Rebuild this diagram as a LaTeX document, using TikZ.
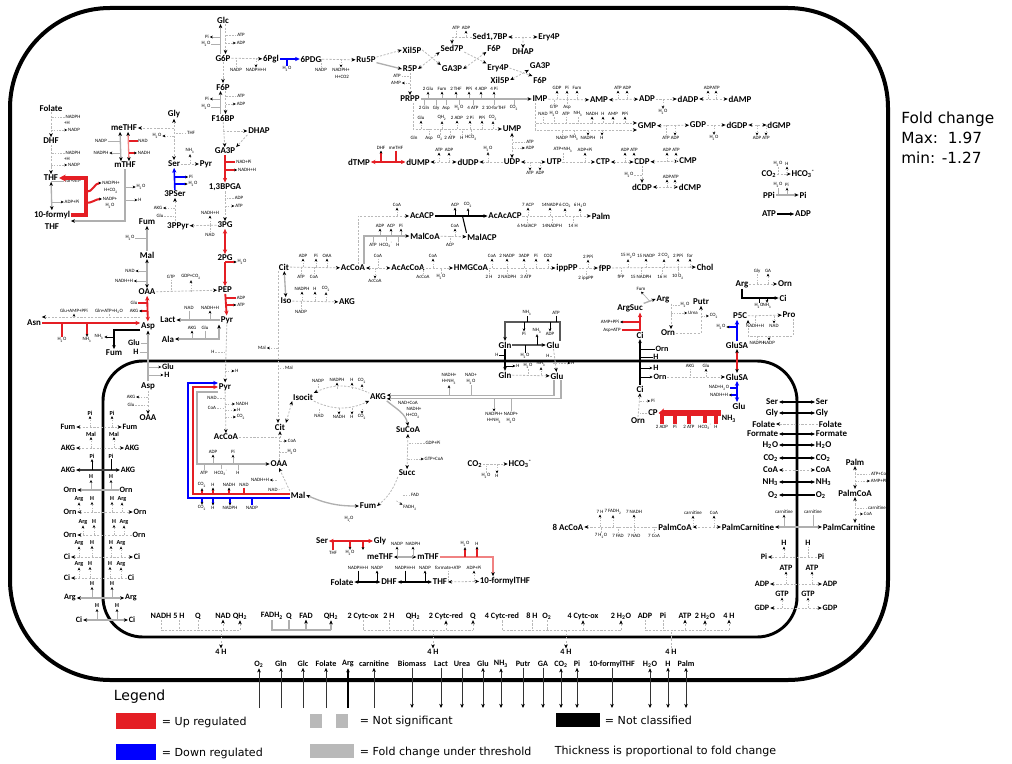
\documentclass[tikz,border=0pt]{standalone}
\usepackage{fontspec}
\setmainfont{Carlito}
\newfontfamily\dvs{DejaVu Sans}
\usetikzlibrary{arrows.meta,calc}
\newcommand\sbs[1]{\textsubscript{#1}}
\newcommand\sps[1]{\textsuperscript{#1}}
\newcommand\Ml[3]{\node[mt] (#1) at (#2) {#3};}
\newcommand\Dl[3]{\node[md] (#1) at (#2) {#3};}
\newcommand\Sl[3]{\node[sm] (#1) at (#2) {#3};}
\newcommand\Bl[3]{\node[sb] (#1) at (#2) {#3};}
\newcommand\Vo[4]{\draw[#1,cfa] ($(#2 -| #3)+(#4,0)$) -- (#2);}
\newcommand\Vi[4]{\draw[#1] (#2) -- ($(#2 -| #3)+(#4,0)$);}
\newcommand\Ho[4]{\draw[#1,cfa] ($(#2 |- #3)+(0,#4)$) -- (#2);}
\newcommand\Hi[4]{\draw[#1] (#2) -- ($(#2 |- #3)+(0,#4)$);}
\newcommand\Su[2]{\draw[cf,cfa] ($(#1.south)+(0,#2)$) -- (#1.south);}
\newcommand\Sd[2]{\draw[cf,cfa] ($(#1.north)+(0,-#2)$) -- (#1.north);}
\newcommand\Siu[2]{\draw[cf] (#1.south) -- ($(#1.south)+(0,#2)$);}
\newcommand\Sid[2]{\draw[cf] (#1.north) -- ($(#1.north)+(0,-#2)$);}
\definecolor{ured}{RGB}{228,30,36}
\definecolor{lred}{RGB}{240,130,130}
\definecolor{ngray}{RGB}{185,185,185}
\definecolor{dgray}{RGB}{175,175,175}
\begin{document}
\begin{tikzpicture}[x=0.75pt,y=-0.75pt,
 >={Stealth[length=3pt,width=2.6pt,inset=0.8pt,color=black]},
 every node/.style={inner sep=0.5pt},
 mt/.style={font=\bfseries\fontsize{6.7}{7}\selectfont},
 md/.style={font=\bfseries\fontsize{6.1}{7}\selectfont},
 sm/.style={font=\fontsize{3.7}{4}\selectfont},
 sb/.style={font=\bfseries\fontsize{4.6}{5}\selectfont},
 dg/.style={draw=ngray,dash pattern=on 1.6pt off 1.1pt,line width=0.6pt},
 cf/.style={draw=ngray,dash pattern=on 1.2pt off 0.9pt,line width=0.45pt},
 sg/.style={draw=dgray,line width=1pt},
 sgt/.style={draw=dgray,line width=0.5pt},
 rd/.style={draw=ured,line width=1.4pt,>={Stealth[length=3.5pt,width=3.2pt,inset=1pt]}},
 rdt/.style={draw=ured,line width=0.8pt},
 lr/.style={draw=lred,line width=1pt},
 bl/.style={draw=blue,line width=1.2pt,>={Stealth[length=3.5pt,width=3.2pt,inset=1pt]}},
 blt/.style={draw=blue,line width=0.8pt},
 bk/.style={draw=black,line width=0.8pt},
 bkt/.style={draw=black,line width=0.5pt},
 dk/.style={draw=black!65,line width=1pt},
 ex/.style={draw=black!80,line width=0.7pt},
 lt/.style={font=\dvs\fontsize{8.3}{10}\selectfont,anchor=west},
 cfa/.style={-{Stealth[length=2.2pt,width=2pt,inset=0.6pt,color=black]}},
]
\path[use as bounding box] (0,0) rectangle (1012,763);
% ---------- membranes ----------
\draw[line width=3pt,rounded corners=75pt] (10,8) rectangle (888,680);
\draw[line width=2.2pt,rounded corners=30pt] (103,361) rectangle (797,637);
% ---------- fold change / legend ----------
\node[anchor=north west,align=left,font=\dvs\fontsize{11.5}{15}\selectfont,inner sep=0pt] (fold) at (901,112) {Fold change\\Max:~~1.97\\min: -1.27};
\node[anchor=west,font=\dvs\fontsize{10.5}{12}\selectfont] (leg) at (113,697) {Legend};
\node[fill=ured,minimum width=30pt,minimum height=12pt,inner sep=0] (lgr) at (136,721) {};
\node[lt] (lgrt) at (161,722) {= Up regulated};
\node[fill=blue,minimum width=30pt,minimum height=12pt,inner sep=0] (lgb) at (136,752) {};
\node[lt] (lgbt) at (161,753) {= Down regulated};
\node[fill=ngray,minimum width=9pt,minimum height=10pt,inner sep=0] (lgn1) at (316,721) {};
\node[fill=ngray,minimum width=9pt,minimum height=10pt,inner sep=0] (lgn2) at (342,721) {};
\node[lt] (lgnt) at (359,721) {= Not significant};
\node[fill=ngray,minimum width=33pt,minimum height=10pt,inner sep=0] (lgf) at (332,751) {};
\node[lt] (lgft) at (359,752) {= Fold change under threshold};
\node[fill=black,minimum width=33pt,minimum height=11pt,inner sep=0] (lgk) at (578,720) {};
\node[lt] (lgkt) at (604,720) {= Not classified};
\node[lt] (lgth) at (554,751) {Thickness is proportional to fold change};
% ---------- glycolysis ----------
\Ml{glc}{223,20}{Glc} \Ml{g6p}{223,58}{G6P} \Ml{pgl}{271,59}{6Pgl} \Ml{pdg}{311,59}{6PDG}
\Ml{ruvp}{366,60}{Ru5P} \Ml{f6p}{223,87}{F6P} \Ml{fbp}{223,118}{F16BP} \Ml{dhap}{259,131}{DHAP}
\Ml{gap}{225,151}{GA3P} \Ml{bpg}{225,187}{1,3BPGA} \Ml{tpg}{225,225}{3PG} \Ml{dpg}{225,258}{2PG}
\Ml{pep}{225,290}{PEP} \Ml{pyr}{227,320}{Pyr}
\draw[sg,->] ($(g6p.north)+(-2.5,0)$) -- ($(glc.south)+(-2.5,0)$);
\draw[dg,->] ($(glc.south)+(2.5,0)$) -- ($(g6p.north)+(2.5,0)$);
\Sl{a1}{207,37}{Pi} \Sl{a2}{206,44}{H\sbs{2}O} \Sl{a3}{241,35}{ATP} \Sl{a4}{241,43}{ADP}
\Vo{sgt}{a1.east}{glc}{-2.5} \Vi{sgt}{a2.east}{glc}{-2.5} \Vi{cf}{a3.west}{glc}{2.5} \Vo{cf}{a4.west}{glc}{2.5}
\draw[dg,->] (g6p) -- (f6p);
\draw[sg,->] ($(fbp.north)+(-2.5,0)$) -- ($(f6p.south)+(-2.5,0)$);
\draw[dg,->] ($(f6p.south)+(2.5,0)$) -- ($(fbp.north)+(2.5,0)$);
\Sl{a5}{207,99}{Pi} \Sl{a6}{206,107}{H\sbs{2}O} \Sl{a7}{241,96}{ATP} \Sl{a8}{241,104}{ADP}
\Vo{sgt}{a5.east}{f6p}{-2.5} \Vi{sgt}{a6.east}{f6p}{-2.5} \Vi{cf}{a7.west}{f6p}{2.5} \Vo{cf}{a8.west}{f6p}{2.5}
\draw[dg,->] (g6p) -- (pgl);
\Sl{a9}{236,70}{NADP} \Sl{a10}{256,70}{NADPH+H}
\Hi{cf}{a9.north}{g6p}{0} \Ho{cf}{a10.north}{g6p}{0}
\draw[bl,->] (pgl) -- (pdg);
\Sl{a11}{287,69}{H\sbs{2}O} \Hi{blt}{a11.north}{pgl}{0}
\draw[dg,->] (pdg) -- (ruvp);
\Sl{a12}{321,70}{NADP} \Sl{a13}{341,70}{NADPH+} \Sl{a14}{342,77}{H+CO2}
\Hi{cf}{a12.north}{pdg}{0} \Ho{cf}{a13.north}{pdg}{0}
\draw[dg,->] (fbp) -- (gap);
\draw[dg,->] (dhap.west -| fbp) -- (dhap.west);
\draw[dg,->] (dhap.south west) -- (gap.north east);
\draw[rd,->] (gap) -- (bpg);
\Sl{a15}{244,162}{NAD+Pi} \Sl{a16}{247,170}{NADH+H}
\Vi{rdt}{a15.west}{gap}{0} \Vo{rdt}{a16.west}{gap}{0}
\draw[dg,->] (bpg) -- (tpg);
\Sl{a17}{239,198}{ADP} \Sl{a18}{239,206}{ATP}
\Vi{cf}{a17.west}{bpg}{0} \Vo{cf}{a18.west}{bpg}{0}
\draw[rd,<->] (tpg) -- (dpg);
\draw[rd,->] (dpg) -- (pep);
\Sl{a19}{242,262}{H\sbs{2}O} \Vo{rdt}{a19.west}{dpg}{0}
\draw[rd,->] (pep) -- (pyr);
\Sl{a20}{241,298}{ADP} \Sl{a21}{241,305}{ATP}
\Vi{rdt}{a20.west}{pep}{0} \Vo{rdt}{a21.west}{pep}{0}
% ---------- serine / glycine ----------
\Ml{ppyr}{178,226}{3PPyr} \Ml{pser}{175,194}{3PSer} \Ml{ser}{174,164}{Ser} \Ml{pyrb}{206,164}{Pyr} \Ml{gly}{174,114}{Gly}
\draw[dg,->] (tpg) -- (ppyr);
\Sl{a22}{210,213}{NADH+H} \Sl{a23}{210,235}{NAD}
\Ho{cf}{a22.south}{tpg}{0} \Hi{cf}{a23.north}{tpg}{0}
\draw[dg,->] (ppyr.north -| pser) -- (pser);
\Sl{a24}{158,208}{AKG} \Sl{a25}{160,216}{Glu}
\Vo{cf}{a24.east}{pser}{0} \Vi{cf}{a25.east}{pser}{0}
\draw[bl,->] (pser) -- (ser);
\Sl{a26}{191,177}{Pi} \Sl{a27}{193,184}{H\sbs{2}O}
\Vo{blt}{a26.west}{ser}{0} \Vo{blt}{a27.west}{ser}{0}
\draw[dg,->] (ser) -- (pyrb);
\Sl{a28}{190,151}{NH\sbs{3}} \Ho{cf}{a28.south}{ser}{0}
\draw[dg,<->] (gly) -- (ser);
\Sl{a29}{157,136}{H\sbs{2}O} \Sl{a30}{191,133}{THF}
\Vo{cf}{a29.east}{gly}{0} \Vi{cf}{a30.west}{gly}{0}
% ---------- folate (cytosol) ----------
\Ml{meth}{124,128}{meTHF} \Ml{mth}{125,165}{mTHF}
\draw[dg,->] (meth.east -| gly) -- (meth.east);
\draw[sg,<->] ($(mth.north)+(-4,0)$) -- ($(meth.south)+(-4,0)$);
\draw[lr,<->] ($(mth.north)+(4,0)$) -- ($(meth.south)+(4,0)$);
\Sl{a31}{101,141}{NADP} \Sl{a32}{101,153}{NADPH} \Sl{a33}{143,141}{NAD} \Sl{a34}{144,153}{NADH}
\Vi{sgt}{a31.east}{mth}{-4} \Vo{sgt}{a32.east}{mth}{-4} \Vi{rdt}{a33.west}{mth}{4} \Vo{rdt}{a34.west}{mth}{4}
\Ml{fol}{51,108}{Folate} \Ml{dhf}{51,141}{DHF} \Ml{thf}{51,178}{THF} \Ml{tenf}{52,215}{10-formyl} \Ml{tenf2}{52,227}{THF}
\draw[dg,->] (fol) -- (dhf);
\Sl{b1}{73,117}{NADPH} \Sl{b2}{67,123}{+H} \Sl{b3}{74,130}{NADP}
\Vi{cf}{b1.west}{fol}{0} \Vo{cf}{b3.west}{fol}{0}
\draw[dg,->] (dhf) -- (thf);
\Sl{b4}{73,153}{NADPH} \Sl{b5}{67,159}{+H} \Sl{b6}{74,165}{NADP}
\Vi{cf}{b4.west}{dhf}{0} \Vo{cf}{b6.west}{dhf}{0}
\draw[sg,<->] (thf) -- (tenf);
\Sl{b7}{73,181}{for+ATP} \Sl{b8}{72,202}{ADP+Pi}
\Vi{sgt}{b7.west}{thf}{0} \Vo{sgt}{b8.west}{thf}{0}
\coordinate (rc1) at (86,215); \coordinate (rc2) at (86,192); \coordinate (rc3) at (86,203);
\draw[draw=ured,line width=2.8pt,-{Stealth[length=5pt,width=5pt]}] (tenf.east) -- (rc1) |- (thf.east);
\Sl{b9}{111,183}{NADPH+} \Sl{b10}{111,191}{H+CO\sbs{2}} \Sl{b11}{110,199}{NADP+} \Sl{b12}{110,206}{H\sbs{2}O}
\draw[draw=ured,line width=1.5pt,cfa] (rc2) to[out=0,in=180] (b9.west);
\draw[draw=ured,line width=1.5pt,cfa] (rc3) to[out=0,in=180] (b11.west);
\draw[sg,->] (mth.south) |- ($(tenf.east)+(0,6)$);
\Sl{b13}{141,187}{H\sbs{2}O} \Sl{b14}{140,200}{H}
\Vo{sgt}{b13.west}{mth}{0} \Vo{sgt}{b14.west}{mth}{0}
% ---------- Mal / OAA / Asp (cytosol) ----------
\Ml{fum}{147,222}{Fum} \Ml{mal}{147,255}{Mal} \Ml{oaa}{147,292}{OAA} \Ml{asp}{148,326}{Asp}
\Ml{asn}{34,323}{Asn} \Ml{lact}{168,320}{Lact} \Ml{ala}{168,339}{Ala} \Ml{fumb}{114,353}{Fum}
\draw[sg,->] (mal) -- (fum);
\Sl{c1}{130,238}{H\sbs{2}O} \Vi{sgt}{c1.east}{mal}{0}
\draw[sg,<->] (mal) -- (oaa);
\Sl{c2}{130,271}{NAD} \Sl{c3}{124,281}{NADH+H}
\Vo{sgt}{c2.east}{mal}{0} \Vo{sgt}{c3.east}{mal}{0}
\draw[dg,->] (oaa) -- (pep);
\Sl{c4}{171,277}{GTP} \Sl{c5}{191,277}{GDP+CO\sbs{2}}
\Hi{cf}{c4.south}{oaa}{0} \Ho{cf}{c5.south}{oaa}{0}
\draw[rd,<->] (oaa) -- (asp);
\Sl{c6}{134,303}{Glu} \Sl{c7}{134,311}{AKG}
\Vi{rdt}{c6.east}{oaa}{0} \Vo{rdt}{c7.east}{oaa}{0}
\draw[dg,->] ($(asp.west)+(0,-9)$) -- ($(asp.west -| asn.east)+(0,-9)$);
\Sl{c8}{74,311}{Glu+AMP+PPi} \Sl{c9}{109,311}{Gln+ATP+H\sbs{2}O}
\Ho{cf}{c8.south}{asp}{-9} \Hi{cf}{c9.south}{asp}{-9}
\draw[rd,->] (asn.east) -- (asn.east -| asp.west);
\Sl{c10}{62,340}{H\sbs{2}O} \Sl{c11}{87,340}{NH\sbs{3}}
\Hi{rdt}{c10.north}{asn}{0} \Ho{rdt}{c11.north}{asn}{0}
\draw[bk,->] ($(asp.west)+(0,4)$) -| (fumb.north);
\Sl{c12}{99,337}{NH\sbs{3}} \Vo{bkt}{c12.east}{fumb}{0}
\draw[sg,->] (pyr) -- (lact);
\Sl{c13}{189,308}{NAD} \Sl{c14}{210,308}{NADH+H}
\Hi{sgt}{c13.south}{lact}{0} \Ho{sgt}{c14.south}{lact}{0}
\draw[sg,<->] ($(pyr.south)+(-8,0)$) |- (ala.east);
\Sl{c15}{192,328}{AKG} \Sl{c16}{205,328}{Glu}
\Ho{sgt}{c15.south}{ala}{0} \Hi{sgt}{c16.south}{ala}{0}
% transport Asp/Glu and Pyr
\Ml{aspm}{148,386}{Asp} \Ml{oaal}{148,418}{OAA}
\Dl{glua}{134,343}{Glu} \Dl{ha}{136,352}{H} \Dl{glub}{168,367}{Glu} \Dl{hb}{167,375}{H}
\draw[sg,->] (aspm) -- (asp);
\Vi{sgt}{glua.east}{asp}{0} \Vi{sgt}{ha.east}{asp}{0} \Vo{sgt}{glub.west}{asp}{0} \Vo{sgt}{hb.west}{asp}{0}
\draw[dg,->] (aspm) -- (oaal);
\Sl{c17}{131,397}{AKG} \Sl{c18}{131,405}{Glu}
\Vo{cf}{c17.east}{aspm}{0} \Vi{cf}{c18.east}{aspm}{0}
\Ml{pyrm}{225,387}{Pyr}
\draw[dg,->] (pyr) -- (pyrm);
\Sl{c19}{213,352}{H} \Sl{c20}{237,371}{H}
\Vi{cf}{c19.east}{pyrm}{0} \Vo{cf}{c20.west}{pyrm}{0}
% ---------- Cit / Iso (cytosol) ----------
\Ml{cit}{284,267}{Cit} \Ml{iso}{286,301}{Iso} \Ml{accoa}{353,268}{AcCoA} \Ml{akgo}{347,302}{AKG}
\draw[sg,<->] (cit) -- (iso);
\draw[dg,->] (cit) -- (accoa);
\Sl{d1}{303,256}{ADP} \Sl{d2}{316,256}{Pi} \Sl{d3}{327,256}{OAA} \Sl{d4}{301,277}{ATP} \Sl{d5}{314,277}{CoA}
\Ho{cf}{d1.south}{cit}{0} \Ho{cf}{d2.south}{cit}{0} \Ho{cf}{d3.south}{cit}{0} \Hi{cf}{d4.north}{cit}{0} \Hi{cf}{d5.north}{cit}{0}
\draw[dg,->] (iso) -- (akgo);
\Sl{d6}{302,289}{NADPH} \Sl{d7}{315,289}{H} \Sl{d8}{326,289}{CO\sbs{2}} \Sl{d9}{301,312}{NADP}
\Ho{cf}{d6.south}{iso}{0} \Ho{cf}{d7.south}{iso}{0} \Ho{cf}{d8.south}{iso}{0} \Hi{cf}{d9.north}{iso}{0}
\Ml{citm}{280,427}{Cit}
\draw[dg,->] ($(cit.south)+(-6,0)$) -- ($(citm.north)+(-2,0)$);
\Sl{d10}{262,348}{Mal} \Sl{d11}{289,368}{Mal}
\Vo{cf}{d10.east}{citm}{-2} \Vi{cf}{d11.west}{citm}{-2}
% ---------- TCA (mito) ----------
\Ml{accoam}{226,437}{AcCoA} \Ml{isocit}{303,397}{Isocit} \Ml{akgm}{378,397}{AKG} \Ml{sucoa}{408,430}{SuCoA}
\Ml{succ}{407,473}{Succ} \Ml{fumm}{368,506}{Fum} \Ml{malm}{298,495}{Mal} \Ml{oaam}{279,464}{OAA}
\draw[dg,->] (pyrm) -- (accoam);
\Sl{e1}{212,398}{NAD} \Sl{e2}{212,408}{CoA} \Sl{e3}{242,404}{NADH} \Sl{e4}{239,410}{H} \Sl{e5}{241,417}{CO\sbs{2}}
\Vi{cf}{e1.east}{pyrm}{0} \Vi{cf}{e2.east}{pyrm}{0} \Vo{cf}{e3.west}{pyrm}{0} \Vo{cf}{e4.west}{pyrm}{0} \Vo{cf}{e5.west}{pyrm}{0}
\draw[dg,->] (accoam.east) -| (citm.south);
\draw[dg] (oaam.north) -- (oaam.north |- accoam.east);
\Sl{e6}{292,441}{CoA} \Sl{e7}{292,452}{H\sbs{2}O}
\Vo{cf}{e6.west}{citm}{0} \Vi{cf}{e7.west}{citm}{0}
\draw[dg,<->] (citm.north east) -- (isocit.south west);
\draw[dg,<-] (isocit.north east) to[out=25,in=155] (akgm.north west);
\draw[dg,->] (isocit.south east) to[out=-25,in=-155] (akgm.south west);
\Sl{e8}{318,381}{NADP} \Sl{e9}{337,380}{NADPH} \Sl{e10}{352,380}{H} \Sl{e11}{362,381}{CO\sbs{2}}
\Sl{e12}{319,416}{NAD} \Sl{e13}{339,417}{NADH} \Sl{e14}{352,417}{H} \Sl{e15}{362,417}{CO\sbs{2}}
\Siu{e8}{5} \Su{e9}{6} \Su{e10}{6} \Su{e11}{5} \Sid{e12}{5} \Sd{e13}{6} \Sd{e14}{6} \Sd{e15}{5}
\draw[sg,->] (akgm.south east) to[out=-40,in=100] (sucoa.north);
\Sl{e16}{408,403}{NAD+CoA} \Sl{e17}{414,409}{NADH+} \Sl{e18}{413,416}{H+CO\sbs{2}}
\draw[dg,<->] (sucoa) -- (succ);
\Sl{e19}{433,443}{GDP+Pi} \Sl{e20}{434,459}{GTP+CoA}
\Vi{cf}{e19.west}{sucoa}{0} \Vo{cf}{e20.west}{sucoa}{0}
\draw[dg,->] (succ.south west) to[bend left=15] (fumm.east);
\Sl{e21}{415,495}{FAD} \Sl{e22}{410,508}{FADH\sbs{2}}
\draw[cf] (e21.west) -- ++(-7,0); \draw[cf,cfa] ($(e22.north west)+(-6,-4)$) -- (e22.north west);
\draw[sg,<->] (fumm.west) to[bend left=12] (malm.east);
\Sl{e23}{349,519}{H\sbs{2}O} \Siu{e23}{-5}
\draw[dg,->] (malm.north west) -- (oaam.south);
\Sl{e24}{260,480}{NADH+H} \Sl{e25}{273,490}{NAD}
\draw[cf,cfa] ($(e24.east)+(7,0)$) -- (e24.east); \draw[cf] (e25.east) -- ++(6,-2);
\coordinate (gA) at (197,392); \coordinate (rA) at (193,387); \coordinate (bA) at (188,383);
\draw[sg,->] (pyrm.west |- gA) -- (gA) |- (oaam.west);
\Sl{e26}{213,452}{ADP} \Sl{e27}{233,452}{Pi} \Sl{e28}{204,473}{ATP} \Sl{e29}{221,473}{HCO\sbs{3}\sps{-}} \Sl{e30}{238,473}{H}
\Ho{sgt}{e26.south}{oaam}{0} \Ho{sgt}{e27.south}{oaam}{0} \Hi{sgt}{e28.north}{oaam}{0} \Hi{sgt}{e29.north}{oaam}{0} \Hi{sgt}{e30.north}{oaam}{0}
\draw[rd,->] ($(malm.west)+(0,-1)$) -| (rA) -- (rA -| pyrm.west);
\Sl{e31}{202,485}{CO\sbs{2}} \Sl{e32}{213,485}{H} \Sl{e33}{229,485}{NADH} \Sl{e34}{244,485}{NAD}
\Ho{rdt}{e31.south}{malm}{-1} \Ho{rdt}{e32.south}{malm}{-1} \Ho{rdt}{e33.south}{malm}{-1} \Hi{rdt}{e34.south}{malm}{-1}
\draw[bl,->] ($(malm.west)+(0,3)$) -| (bA) -- (bA -| pyrm.west);
\Sl{e35}{202,508}{CO\sbs{2}} \Sl{e36}{213,508}{H} \Sl{e37}{230,508}{NADPH} \Sl{e38}{252,508}{NADP}
\Ho{blt}{e35.north}{malm}{3} \Ho{blt}{e36.north}{malm}{3} \Ho{blt}{e37.north}{malm}{3} \Hi{blt}{e38.north}{malm}{3}
% ---------- AKG / Glu (mito) ----------
\Ml{glnm}{505,375}{Gln} \Ml{glum}{557,376}{Glu}
\draw[sg,->] ($(glum.south)+(-3,0)$) |- ($(akgm.east)+(0,-1.8)$);
\draw[sg,->] ($(glum.south)+(4,0)$) |- ($(akgm.east)+(0,1.8)$);
\Sl{f1}{449,375}{NADH+} \Sl{f2}{449,382}{H+NH\sbs{3}} \Sl{f3}{471,375}{NAD+} \Sl{f4}{471,382}{H\sbs{2}O}
\Sl{f5}{494,414}{NADPH+} \Sl{f6}{494,421}{H+NH\sbs{3}} \Sl{f7}{511,414}{NADP+} \Sl{f8}{511,421}{H\sbs{2}O}
\draw[sgt,cfa] ($(f2.south)+(0,10)$) -- (f2.south); \draw[sgt] (f4.south) -- ($(f4.south)+(0,10)$);
\draw[sgt,cfa] ($(f5.north)+(0,-12)$) -- (f5.north); \draw[sgt] (f7.north) -- ($(f7.north)+(0,-12)$);
% ---------- Gln / Glu ----------
\Ml{gln}{505,345}{Gln} \Ml{glu}{553,345}{Glu}
\coordinate (qA) at (505,322);
\draw[dk,->] ($(glu.north)+(7,0)$) |- (qA) -- (gln.north);
\Sl{g1}{527,313}{NH\sbs{3}} \Sl{g2}{556,313}{ATP} \Sl{g3}{524,334}{Pi} \Sl{g4}{550,334}{ADP}
\Hi{bkt}{g1.south}{qA}{0} \Hi{bkt}{g2.south}{qA}{0} \Ho{bkt}{g3.north}{qA}{0} \Ho{bkt}{g4.north}{qA}{0}
\draw[dk,->] (gln) -- (glu);
\Sl{g5}{537,331}{NH\sbs{3}} \Sl{g6}{525,356}{H\sbs{2}O}
\Ho{bkt}{g5.south}{gln}{0} \Hi{bkt}{g6.north}{gln}{0}
\draw[bk,->] (gln) -- (glnm);
\Sl{g7}{497,355}{H} \Sl{g8}{518,366}{H} \Sl{g9}{528,366}{H\sbs{2}O} \Sl{g10}{541,364}{NH\sbs{3}}
\Vi{bkt}{g7.east}{gln}{0} \Vo{bkt}{g8.west}{gln}{0}
\draw[dg,->] (glu) -- (glum);
\Sl{g11}{548,356}{H} \Sl{g12}{573,363}{H}
\Vi{cf}{g11.east}{glu}{0} \Vo{cf}{g12.west}{glu}{0}
\draw[dg,->] (glnm) -- (glum);
\Hi{cf}{g9.south}{glnm}{0} \Ho{cf}{g10.south}{glnm}{0}
% ---------- urea cycle ----------
\Ml{argsuc}{630,308}{ArgSuc} \Ml{arg}{663,299}{Arg} \Sl{h1}{641,289}{Fum} \Ml{cio}{640,335}{Ci}
\Ml{orna}{668,333}{Orn} \Ml{putr}{701,302}{Putr}
\draw[rd,->] (cio.north) -- (cio.north |- argsuc.south);
\Sl{h2}{610,322}{AMP+PPi} \Sl{h3}{612,330}{Asp+ATP}
\Vo{rdt}{h2.east}{cio}{0} \Vi{rdt}{h3.east}{cio}{0}
\draw[sg,->] (argsuc.north east) -- (arg.west);
\draw[sgt,cfa] ($(argsuc.north east)!0.5!(arg.west)$) -- (h1.south);
\draw[dg,->] ($(arg.south)+(8,0)$) -- ($(orna.north)+(3,0)$);
\Sl{h4}{685,305}{H\sbs{2}O} \Sl{h5}{693,313}{Urea}
\Vi{cf}{h4.west}{orna}{3} \Vo{cf}{h5.west}{orna}{3}
\draw[dg,->] (orna.east) -| (putr.south);
\Sl{h6}{714,316}{CO\sbs{2}} \Vo{cf}{h6.west}{putr}{0}
\Ml{argb}{742,284}{Arg} \Ml{ornb}{785,284}{Orn} \Ml{cib}{783,298}{Ci}
\draw[dg,->] (argb) -- (ornb);
\Sl{h7}{757,271}{Gly} \Sl{h8}{768,271}{GA}
\Hi{cf}{h7.south}{argb}{0} \Ho{cf}{h8.south}{argb}{0}
\draw[bk,->] (argb.south) |- (cib.west);
\Sl{h9}{759,306}{H\sbs{2}O} \Sl{h10}{767,306}{NH\sbs{3}}
\Hi{bkt}{h9.north}{cib}{0} \Ho{bkt}{h10.north}{cib}{0}
\Ml{pfc}{740,316}{P5C} \Ml{pro}{789,315}{Pro}
\draw[dg,->] (pfc) -- (pro);
\Sl{h11}{755,326}{NADH+H} \Sl{h12}{774,326}{NAD}
\Hi{cf}{h11.north}{pfc}{0} \Ho{cf}{h12.north}{pfc}{0}
\coordinate (pl) at (748,336);
\draw[dg,->] ($(pro.south)+(4,0)$) |- (pl) -- (pl |- pfc.south);
\Sl{h13}{757,343}{NADPH} \Sl{h14}{769,343}{NADP}
\Hi{cf}{h13.north}{pl}{0} \Ho{cf}{h14.north}{pl}{0}
\Ml{glusa}{737,345}{GluSA} \Ml{glusam}{737,377}{GluSA} \Ml{glue}{739,406}{Glu}
\draw[bl,->] (glusa) -- (glusa |- pfc.south);
\Sl{h15}{721,327}{H\sbs{2}O} \Vo{blt}{h15.east}{glusa}{0}
\draw[draw=ured,line width=0.8pt,<->] (glusam) -- (glusa);
\draw[bl,<->] (glusam) -- (glusam |- glue.north);
\Sl{h16}{719,388}{NAD+H\sbs{2}O} \Sl{h17}{719,395}{NADH+H}
\Vi{blt}{h16.east}{glusam}{0} \Vo{blt}{h17.east}{glusam}{0}
\Dl{ornm}{660,377}{Orn}
\draw[dg,->] (ornm) -- (glusam);
\Sl{h18}{690,366}{AKG} \Sl{h19}{706,366}{Glu}
\Hi{cf}{h18.south}{ornm}{0} \Ho{cf}{h19.south}{ornm}{0}
\Ml{cim}{640,389}{Ci}
\draw[bk,->] (cim) -- (cio);
\Dl{ornt}{662,349}{Orn} \Dl{ht}{656,357}{H} \Dl{hm}{656,368}{H}
\Vi{bkt}{ornt.west}{cim}{0} \Vi{bkt}{ht.west}{cim}{0} \Vo{bkt}{hm.west}{cim}{0} \Vo{bkt}{ornm.west}{cim}{0}
\Ml{ornc}{638,421}{Orn} \Ml{cp}{653,413}{CP} \Dl{nhc}{729,419}{NH\sbs{3}}
\draw[dg,->] (ornc.north) -- (cim.south);
\Sl{h20}{653,401}{Pi} \Vo{cf}{h20.west}{cim}{0}
\draw[dg] (cp.west) -- (cp.west -| cim);
\draw[draw=ured,line width=5pt,-{Stealth[length=4pt,width=7pt]}] (nhc.west |- cp.east) -- (cp.east);
\Sl{h21}{662,427}{2 ADP} \Sl{h22}{675,427}{Pi} \Sl{h23}{689,427}{2 ATP} \Sl{h24}{705,427}{HCO\sbs{3}\sps{-}} \Sl{h25}{716,427}{H}
\draw[draw=ured,line width=2.5pt] (h21.north |- cp.east) -- (h21.north);
\draw[draw=ured,line width=2.5pt] (h22.north |- cp.east) -- (h22.north);
\draw[draw=ured,line width=2.5pt] (h23.north |- cp.east) -- (h23.north);
\draw[draw=ured,line width=2.5pt] (h24.north |- cp.east) -- (h24.north);
\draw[draw=ured,line width=2.5pt] (h25.north |- cp.east) -- (h25.north);
% ---------- fatty acids / cholesterol ----------
\Ml{acacp}{422,216}{AcACP} \Ml{acacacp}{505,216}{AcAcACP} \Ml{palm}{601,216}{Palm} \Ml{malcoa}{425,236}{MalCoA}
\Ml{malacp}{482,237}{MalACP} \Ml{acacoa}{408,268}{AcAcCoA} \Ml{hmg}{471,268}{HMGCoA} \Ml{ipp}{567,268}{ippPP}
\Ml{fpp}{605,268}{fPP} \Ml{chol}{705,267}{Chol}
\draw[dg,->] ($(accoa.north)+(5,0)$) |- (acacp.west);
\Sl{i1}{397,205}{CoA} \Ho{cf}{i1.south}{acacp}{0}
\draw[bk,->] (acacp) -- (acacacp);
\draw[bk] (malacp.north west) -- ($(malacp.north west |- acacp.east)+(-4,0)$);
\Sl{i2}{455,205}{ACP} \Sl{i3}{468,205}{CO\sbs{2}}
\Ho{bkt}{i2.south}{acacp}{0} \Ho{bkt}{i3.south}{acacp}{0}
\draw[dg,->] (acacacp) -- (palm);
\Sl{i4}{528,205}{7 ACP} \Sl{i5}{550,205}{14NADP} \Sl{i6}{565,205}{6 CO\sbs{2}} \Sl{i7}{580,205}{6 H\sbs{2}O}
\Sl{i8}{527,226}{6 MalACP} \Sl{i9}{552,226}{14NADPH} \Sl{i10}{573,226}{14 H}
\Ho{cf}{i4.south}{palm}{0} \Ho{cf}{i5.south}{palm}{0} \Ho{cf}{i6.south}{palm}{0} \Ho{cf}{i7.south}{palm}{0}
\Hi{cf}{i8.north}{palm}{0} \Hi{cf}{i9.north}{palm}{0} \Hi{cf}{i10.north}{palm}{0}
\draw[sg,->] ($(accoa.north)+(11,0)$) |- (malcoa.west);
\Sl{i11}{380,226}{ADP} \Sl{i12}{391,226}{ACP} \Sl{i13}{401,226}{Pi}
\Sl{i14}{373,245}{ATP} \Sl{i15}{386,245}{HCO\sbs{3}\sps{-}} \Sl{i16}{398,245}{H}
\Ho{sgt}{i11.south}{malcoa}{0} \Ho{sgt}{i12.south}{malcoa}{0} \Ho{sgt}{i13.south}{malcoa}{0}
\Hi{sgt}{i14.north}{malcoa}{0} \Hi{sgt}{i15.north}{malcoa}{0} \Hi{sgt}{i16.north}{malcoa}{0}
\draw[dg,->] (malcoa) -- (malacp);
\Sl{i17}{455,226}{CoA} \Sl{i18}{450,245}{ACP}
\Ho{cf}{i17.south}{malcoa}{0} \Hi{cf}{i18.north}{malcoa}{0}
\draw[dg,<->] (accoa) -- (acacoa);
\Sl{i19}{378,256}{CoA} \Sl{i20}{375,281}{AcCoA}
\Hi{cf}{i19.south}{accoa}{0} \Ho{cf}{i20.north}{accoa}{0}
\draw[dg,->] (acacoa) -- (hmg);
\Sl{i21}{433,256}{CoA} \Sl{i22}{423,277}{AcCoA} \Sl{i23}{441,277}{H\sbs{2}O}
\Ho{cf}{i21.south}{acacoa}{0} \Hi{cf}{i22.north}{acacoa}{0} \Hi{cf}{i23.north}{acacoa}{0}
\draw[dg,->] (hmg) -- (ipp);
\Sl{i24}{492,256}{CoA} \Sl{i25}{507,256}{2 NADP} \Sl{i26}{524,256}{3ADP} \Sl{i27}{536,256}{Pi} \Sl{i28}{548,256}{CO2}
\Sl{i29}{489,277}{2 H} \Sl{i30}{507,277}{2 NADPH} \Sl{i31}{526,277}{3 ATP}
\Ho{cf}{i24.south}{hmg}{0} \Ho{cf}{i25.south}{hmg}{0} \Ho{cf}{i26.south}{hmg}{0} \Ho{cf}{i27.south}{hmg}{0} \Ho{cf}{i28.south}{hmg}{0}
\Hi{cf}{i29.north}{hmg}{0} \Hi{cf}{i30.north}{hmg}{0} \Hi{cf}{i31.north}{hmg}{0}
\draw[dg,->] (ipp) -- (fpp);
\Sl{i32}{588,257}{2 PPi} \Sl{i33}{586,278}{2 ippPP}
\Ho{cf}{i32.south}{ipp}{0} \Hi{cf}{i33.north}{ipp}{0}
\draw[dg,->] (fpp) -- (chol);
\Sl{i34}{628,256}{15 H\sbs{2}O} \Sl{i35}{646,256}{15 NADP} \Sl{i36}{664,256}{2 CO\sbs{2}} \Sl{i37}{678,256}{2 PPi} \Sl{i38}{690,256}{for}
\Sl{i39}{621,277}{fPP} \Sl{i40}{641,277}{15 NADPH} \Sl{i41}{662,277}{16 H} \Sl{i42}{678,277}{10 O\sbs{2}}
\Ho{cf}{i34.south}{fpp}{0} \Ho{cf}{i35.south}{fpp}{0} \Ho{cf}{i36.south}{fpp}{0} \Ho{cf}{i37.south}{fpp}{0} \Ho{cf}{i38.south}{fpp}{0}
\Hi{cf}{i39.north}{fpp}{0} \Hi{cf}{i40.north}{fpp}{0} \Hi{cf}{i41.north}{fpp}{0} \Hi{cf}{i42.north}{fpp}{0}
% ---------- pentose phosphate ----------
\Ml{xil}{412,50}{Xil5P} \Ml{rvp}{410,69}{R5P} \Ml{sed}{452,48}{Sed7P} \Ml{gapb}{452,69}{GA3P}
\Ml{ffp}{494,48}{F6P} \Ml{ery}{498,68}{Ery4P} \Ml{gapc}{540,66}{GA3P} \Ml{xilb}{500,80}{Xil5P}
\Ml{ffpb}{540,80}{F6P} \Ml{sbp}{490,37}{Sed1,7BP} \Ml{eryb}{549,37}{Ery4P} \Ml{dhapb}{523,52}{DHAP}
\draw[dg,->] (ruvp) -- (xil.west);
\draw[sg,->] (ruvp) -- (rvp.west);
\draw[dg,->] (xil.east) -- (gapb.north west);
\draw[dg,<->] (rvp.east) -- (sed.south west);
\draw[dg,->] (sed.south east) -- (ery.north west);
\draw[dg,<->] (gapb.east) -- (ffp.south west);
\draw[dg,->] (ery.east) -- (ffpb.north west);
\draw[dg,<->] (xilb.east) -- (gapc.south west);
\draw[dg,->] (sbp.west) -| (sed.north);
\Sl{j1}{456,28}{ATP} \Sl{j2}{466,28}{ADP}
\Hi{cf}{j1.south}{sbp}{0} \Ho{cf}{j2.south}{sbp}{0}
\draw[dg,<->] (sbp) -- (eryb);
\draw[dg,->] ($(sbp.east)!0.5!(eryb.west)$) -- (dhapb.north);
\Ml{prpp}{410,99}{PRPP}
\draw[dg,->] (rvp) -- (prpp);
\Sl{j3}{397,76}{ATP} \Sl{j4}{396,83}{AMP}
\Vi{cf}{j3.east}{rvp}{0} \Vo{cf}{j4.east}{rvp}{0}
% ---------- nucleotides ----------
\Ml{imp}{540,99}{IMP} \Ml{amp}{599,100}{AMP} \Ml{adp}{647,99}{ADP} \Ml{dadp}{688,99}{dADP} \Ml{damp}{740,99}{dAMP}
\Ml{gmp}{647,126}{GMP} \Ml{gdp}{698,125}{GDP} \Ml{dgdp}{737,125}{dGDP} \Ml{dgmp}{779,125}{dGMP}
\Ml{ump}{512,129}{UMP} \Ml{dtmp}{359,162}{dTMP} \Ml{dump}{418,162}{dUMP} \Ml{dudp}{468,162}{dUDP}
\Ml{udp}{512,162}{UDP} \Ml{utp}{554,162}{UTP} \Ml{ctp}{603,162}{CTP} \Ml{cdp}{642,162}{CDP}
\Ml{cmp}{688,161}{CMP} \Ml{dcdp}{642,187}{dCDP} \Ml{dcmp}{690,187}{dCMP}
\draw[sg,->] (prpp) -- (imp);
\Sl{k1}{428,89}{2 Glu} \Sl{k2}{442,89}{Fum} \Sl{k3}{456,89}{2 THF} \Sl{k4}{469,89}{PPi} \Sl{k5}{481,89}{4 ADP} \Sl{k6}{494,89}{4 Pi}
\Sl{k7}{424,108}{2 Gln} \Sl{k8}{436,108}{Gly} \Sl{k9}{446,108}{Asp} \Sl{k10}{459,108}{H\sbs{2}O} \Sl{k11}{473,108}{4 ATP} \Sl{k12}{494,108}{2 10-forTHF} \Sl{k13}{514,108}{CO\sbs{2}}
\Ho{sgt}{k1.south}{prpp}{0} \Ho{sgt}{k2.south}{prpp}{0} \Ho{sgt}{k3.south}{prpp}{0} \Ho{sgt}{k4.south}{prpp}{0} \Ho{sgt}{k5.south}{prpp}{0} \Ho{sgt}{k6.south}{prpp}{0}
\Hi{sgt}{k7.north}{prpp}{0} \Hi{sgt}{k8.north}{prpp}{0} \Hi{sgt}{k9.north}{prpp}{0} \Hi{sgt}{k10.north}{prpp}{0} \Hi{sgt}{k11.north}{prpp}{0} \Hi{sgt}{k12.north}{prpp}{0} \Hi{sgt}{k13.north}{prpp}{0}
\draw[dg,->] ($(prpp.south)+(3,0)$) |- (ump.west);
\Sl{k14}{421,118}{Glu} \Sl{k15}{442,118}{QH\sbs{2}} \Sl{k16}{457,118}{2 ADP} \Sl{k17}{470,118}{2 Pi} \Sl{k18}{482,118}{PPi} \Sl{k19}{493,118}{CO\sbs{2}}
\Sl{k20}{414,138}{Gln} \Sl{k21}{429,138}{Asp} \Sl{k22}{440,138}{O\sbs{2}} \Sl{k23}{450,138}{2 ATP} \Sl{k24}{462,138}{H} \Sl{k25}{471,138}{HCO\sbs{3}}
\Ho{cf}{k14.south}{ump}{0} \Ho{cf}{k15.south}{ump}{0} \Ho{cf}{k16.south}{ump}{0} \Ho{cf}{k17.south}{ump}{0} \Ho{cf}{k18.south}{ump}{0} \Ho{cf}{k19.south}{ump}{0}
\Hi{cf}{k21.north}{ump}{0} \Hi{cf}{k22.north}{ump}{0} \Hi{cf}{k23.north}{ump}{0} \Hi{cf}{k24.north}{ump}{0} \Hi{cf}{k25.north}{ump}{0}
\draw[dg,->] (imp) -- (amp);
\Sl{k26}{557,88}{GDP} \Sl{k27}{567,88}{Pi} \Sl{k28}{577,88}{Fum} \Sl{k29}{554,107}{GTP} \Sl{k30}{567,107}{Asp}
\Ho{cf}{k26.south}{imp}{0} \Ho{cf}{k27.south}{imp}{0} \Ho{cf}{k28.south}{imp}{0} \Hi{cf}{k29.north}{imp}{0} \Hi{cf}{k30.north}{imp}{0}
\draw[dg,<->] (amp) -- (adp);
\Sl{k31}{618,88}{ATP} \Sl{k32}{627,88}{ADP}
\Ho{cf}{k31.south}{adp}{0} \Ho{cf}{k32.south}{adp}{0}
\draw[dg,->] (adp) -- (dadp);
\Sl{k33}{663,112}{H\sbs{2}O} \Ho{cf}{k33.north}{adp}{0}
\draw[dg,<->] (dadp) -- (damp);
\Sl{k34}{708,88}{ADP} \Sl{k35}{716,88}{ATP}
\Ho{cf}{k34.south}{damp}{0} \Ho{cf}{k35.south}{damp}{0}
\draw[dg,->] ($(imp.south)+(-5,0)$) |- ($(gmp.west)+(0,-3)$);
\draw[dg,->] ($(imp.south)+(-5,0)$) |- ($(gmp.west)+(0,4)$);
\Sl{k36}{543,114}{NAD} \Sl{k37}{554,114}{H\sbs{2}O} \Sl{k38}{566,114}{ATP} \Sl{k39}{578,114}{NH\sbs{3}} \Sl{k40}{592,114}{NADH} \Sl{k41}{603,114}{H} \Sl{k42}{613,114}{AMP} \Sl{k43}{625,114}{PPi}
\Hi{cf}{k36.south}{gmp}{-3} \Hi{cf}{k37.south}{gmp}{-3} \Hi{cf}{k38.south}{gmp}{-3} \Hi{cf}{k39.south}{gmp}{-3} \Ho{cf}{k40.south}{gmp}{-3} \Ho{cf}{k41.south}{gmp}{-3} \Ho{cf}{k42.south}{gmp}{-3} \Ho{cf}{k43.south}{gmp}{-3}
\Sl{k44}{562,138}{NADP} \Sl{k45}{574,138}{NH\sbs{3}} \Sl{k46}{588,138}{NADPH} \Sl{k47}{602,138}{H}
\Hi{cf}{k44.north}{gmp}{4} \Hi{cf}{k45.north}{gmp}{4} \Ho{cf}{k46.north}{gmp}{4} \Ho{cf}{k47.north}{gmp}{4}
\draw[dg,<->] (gmp) -- (gdp);
\Sl{k50}{666,138}{ATP} \Sl{k51}{675,138}{ADP}
\Hi{cf}{k50.north}{gdp}{0} \Ho{cf}{k51.north}{gdp}{0}
\draw[dg,->] (gdp) -- (dgdp);
\Sl{k52}{714,138}{H\sbs{2}O} \Ho{cf}{k52.north}{gdp}{0}
\draw[dg,<->] (dgdp) -- (dgmp);
\Sl{k53}{757,138}{ADP} \Sl{k54}{766,138}{ATP}
\Ho{cf}{k53.north}{dgmp}{0} \Ho{cf}{k54.north}{dgmp}{0}
\draw[dg,<->] (ump) -- (udp);
\Sl{k55}{530,142}{ATP} \Sl{k56}{530,148}{ADP}
\Vi{cf}{k55.west}{ump}{0} \Vo{cf}{k56.west}{ump}{0}
\draw[dg,<->] (udp) -- (utp);
\Sl{k57}{530,173}{ATP} \Sl{k58}{540,173}{ADP}
\Ho{cf}{k57.north}{utp}{0} \Ho{cf}{k58.north}{utp}{0}
\draw[dg,->] (udp) -- (dudp);
\Sl{k59}{488,149}{H\sbs{2}O} \Ho{cf}{k59.south}{udp}{0}
\draw[dg,<->] (dudp) -- (dump);
\Sl{k60}{439,150}{ATP} \Sl{k61}{449,150}{ADP}
\Ho{cf}{k60.south}{dump}{0} \Ho{cf}{k61.south}{dump}{0}
\draw[rd,<->] (dump) -- (dtmp);
\Sl{k62}{381,148}{DHF} \Sl{k63}{396,148}{meTHF}
\Ho{rdt}{k62.south}{dump}{0} \Hi{rdt}{k63.south}{dump}{0}
\draw[dg,->] (utp) -- (ctp);
\Sl{k64}{563,150}{ATP+NH\sbs{3}} \Sl{k65}{585,150}{ADP+Pi}
\Hi{cf}{k64.south}{ctp}{0} \Ho{cf}{k65.south}{ctp}{0}
\draw[dg,<->] (ctp) -- (cdp);
\Sl{k66}{625,150}{ADP} \Sl{k67}{634,150}{ATP}
\Ho{cf}{k66.south}{cdp}{0} \Ho{cf}{k67.south}{cdp}{0}
\draw[dg,<->] (cdp) -- (cmp);
\Sl{k68}{667,150}{ADP} \Sl{k69}{676,150}{ATP}
\Ho{cf}{k68.south}{cdp}{0} \Ho{cf}{k69.south}{cdp}{0}
\draw[dg,->] (cdp) -- (dcdp);
\Sl{k70}{629,175}{H\sbs{2}O} \Vi{cf}{k70.east}{cdp}{0}
\draw[dg,<->] (dcdp) -- (dcmp);
\Sl{k71}{667,177}{ADP} \Sl{k72}{675,177}{ATP}
\Ho{cf}{k71.south}{dcdp}{0} \Ho{cf}{k72.south}{dcdp}{0}
% ---------- misc reactions top right ----------
\Ml{co2a}{769,174}{CO\sbs{2}} \Ml{hco3a}{803,174}{HCO\sbs{3}\sps{-}}
\draw[dg,->] (co2a) -- (hco3a);
\Sl{l1}{778,164}{H\sbs{2}O} \Sl{l2}{787,164}{H}
\Hi{cf}{l1.south}{co2a}{0} \Ho{cf}{l2.south}{co2a}{0}
\Ml{ppia}{769,195}{PPi} \Ml{pia}{803,195}{Pi}
\draw[sg,->] (ppia) -- (pia);
\Sl{l3}{778,185}{H\sbs{2}O} \Sl{l4}{787,185}{Pi}
\Hi{sgt}{l3.south}{ppia}{0} \Ho{sgt}{l4.south}{ppia}{0}
\Ml{atpa}{769,214}{ATP} \Ml{adpa}{803,214}{ADP}
\draw[bk,->] (atpa) -- (adpa);
% ---------- mito folate ----------
\Ml{serm}{322,541}{Ser} \Ml{glym}{380,541}{Gly} \Ml{methm}{380,557}{meTHF} \Ml{mthm}{428,557}{mTHF}
\Ml{folm}{342,582}{Folate} \Ml{dhfm}{389,582}{DHF} \Ml{thfm}{440,582}{THF} \Ml{tfm}{505,581}{10-formylTHF}
\draw[rd,<->] (serm) -- (glym);
\Sl{n1}{333,553}{THF} \Sl{n2}{350,553}{H\sbs{2}O}
\Hi{rdt}{n1.north}{serm}{0} \Ho{rdt}{n2.north}{serm}{0}
\draw[rdt,cfa] ($(n2.north |- serm)+(13,0)$) -- ++(0,9);
\draw[sg,<->] (methm) -- (mthm);
\Sl{n3}{397,544}{NADP} \Sl{n4}{413,544}{NADPH}
\Ho{sgt}{n3.south}{methm}{0} \Ho{sgt}{n4.south}{methm}{0}
\draw[lr,->] (mthm.east) -| ($(tfm.north)+(-12,0)$);
\Sl{n5}{465,544}{H\sbs{2}O} \Sl{n6}{477,544}{H}
\Ho{rdt}{n5.south}{mthm}{0} \Ho{rdt}{n6.south}{mthm}{0}
\draw[bk,<->] (folm) -- (dhfm);
\Sl{n7}{358,568}{NADPH+H} \Sl{n8}{377,568}{NADP}
\Hi{bkt}{n7.south}{folm}{0} \Ho{bkt}{n8.south}{folm}{0}
\draw[bk,<->] (dhfm) -- (thfm);
\Sl{n9}{405,568}{NADPH+H} \Sl{n10}{425,568}{NADP}
\Hi{bkt}{n9.south}{dhfm}{0} \Ho{bkt}{n10.south}{dhfm}{0}
\draw[dg,<->] (thfm) -- (tfm);
\Sl{n11}{448,568}{formate+ATP} \Sl{n12}{474,568}{ADP+Pi}
\Hi{cf}{n11.south}{thfm}{0} \Ho{cf}{n12.south}{thfm}{0}
\Ml{co2m}{475,464}{CO\sbs{2}} \Ml{hco3m}{520,464}{HCO\sbs{3}\sps{-}}
\draw[dg,->] (co2m) -- (hco3m);
\Sl{n13}{486,476}{H\sbs{2}O} \Sl{n14}{497,476}{H}
\Hi{cf}{n13.north}{co2m}{0} \Ho{cf}{n14.north}{co2m}{0}
% ---------- right transports ----------
\node[mt,anchor=east] (serl) at (779,402) {Ser}; \node[mt,anchor=west] (serr) at (815,402) {Ser};
\node[mt,anchor=east] (glyl) at (779,413) {Gly}; \node[mt,anchor=west] (glyr) at (815,413) {Gly};
\node[mt,anchor=east] (foll) at (776,424) {Folate}; \node[mt,anchor=west] (folr) at (818,424) {Folate};
\node[mt,anchor=east] (forl) at (779,434) {Formate}; \node[mt,anchor=west] (forr) at (815,434) {Formate};
\node[mt,anchor=east] (wl) at (779,445) {H\sbs{2}O}; \node[mt,anchor=west] (wr) at (815,445) {H\sbs{2}O};
\node[mt,anchor=east] (col) at (779,458) {CO\sbs{2}}; \node[mt,anchor=west] (cor) at (815,458) {CO\sbs{2}};
\node[mt,anchor=east] (coal) at (779,470) {CoA}; \node[mt,anchor=west] (coar) at (815,470) {CoA};
\node[mt,anchor=east] (nhl) at (779,482) {NH\sbs{3}}; \node[mt,anchor=west] (nhr) at (815,482) {NH\sbs{3}};
\node[mt,anchor=east] (oxl) at (779,495) {O\sbs{2}}; \node[mt,anchor=west] (oxr) at (815,495) {O\sbs{2}};
\draw[bk,<->] (serl) -- (serr); \draw[bk,<->] (glyl) -- (glyr); \draw[dg,->] (folr) -- (foll);
\draw[bk,<->] (forl) -- (forr); \draw[bk,<->] (wl) -- (wr); \draw[bk,<->] (col) -- (cor);
\draw[dg,<->] (coal) -- (coar); \draw[bk,<->] (nhl) -- (nhr); \draw[bk,->] (oxr) -- (oxl);
\Ml{palmr}{855,462}{Palm} \Ml{palmcoar}{855,493}{PalmCoA} \Ml{pcarr}{849,527}{PalmCarnitine}
\Ml{pcarl}{748,527}{PalmCarnitine} \Ml{palmcoal}{675,527}{PalmCoA} \Ml{acoa8}{568,527}{8 AcCoA}
\draw[dg,<->] (palmr) -- (palmcoar);
\Sl{m1}{880,474}{ATP+CoA} \Sl{m2}{880,481}{AMP+PPi}
\Vi{cf}{m1.west}{palmr}{0} \Vo{cf}{m2.west}{palmr}{0}
\draw[dg,<->] (palmcoar) -- (palmcoar |- pcarr.north);
\Sl{m3}{877,508}{carnitine} \Sl{m4}{868,514}{CoA}
\Vi{cf}{m3.west}{palmcoar}{0} \Vo{cf}{m4.west}{palmcoar}{0}
\draw[sg,<->] (pcarr) -- (pcarl);
\Sl{m5}{784,512}{carnitine} \Sl{m6}{813,512}{carnitine}
\Ho{sgt}{m5.south}{pcarl}{0} \Hi{sgt}{m6.south}{pcarl}{0}
\draw[dg,<->] (pcarl) -- (palmcoal);
\Sl{m7}{693,513}{carnitine} \Sl{m8}{714,513}{CoA}
\Ho{cf}{m7.south}{pcarl}{0} \Ho{cf}{m8.south}{pcarl}{0}
\draw[dg,->] (palmcoal) -- (acoa8);
\Sl{m9}{600,512}{7 H} \Sl{m10}{613,512}{7 FADH\sbs{2}} \Sl{m11}{634,512}{7 NADH}
\Sl{m12}{601,536}{7 H\sbs{2}O} \Sl{m13}{618,536}{7 FAD} \Sl{m14}{634,536}{7 NAD} \Sl{m15}{654,536}{7 CoA}
\Ho{cf}{m9.south}{acoa8}{0} \Ho{cf}{m10.south}{acoa8}{0} \Ho{cf}{m11.south}{acoa8}{0}
\Hi{cf}{m12.north}{acoa8}{0} \Hi{cf}{m13.north}{acoa8}{0} \Hi{cf}{m14.north}{acoa8}{0} \Hi{cf}{m15.north}{acoa8}{0}
\Dl{hl}{784,543}{H} \Dl{hr}{808,543}{H} \Dl{pil}{764,557}{Pi} \Dl{pir}{821,557}{Pi}
\draw[dg,->] (pir) -- (pil);
\Ho{cf}{hl.south}{pil}{0} \Hi{cf}{hr.south}{pil}{0}
\Dl{atpl}{786,568}{ATP} \Dl{atpr}{812,568}{ATP} \Dl{adpl}{762,584}{ADP} \Dl{adpr}{830,584}{ADP}
\draw[dg,<->] (adpl) -- (adpr);
\Ho{cf}{atpl.south}{adpl}{0} \Ho{cf}{atpr.south}{adpl}{0}
\Dl{gtpl}{782,594}{GTP} \Dl{gtpr}{808,594}{GTP} \Dl{gdpl}{762,608}{GDP} \Dl{gdpr}{830,608}{GDP}
\draw[dg,<->] (gdpl) -- (gdpr);
\Ho{cf}{gtpl.south}{gdpl}{0} \Ho{cf}{gtpr.south}{gdpl}{0}
% ---------- left transports ----------
\Dl{tfl}{68,427}{Fum} \Dl{tfr}{130,427}{Fum} \draw[dg,<->] (tfl) -- (tfr);
\Bl{tp1}{90,413}{Pi} \Bl{tp2}{112,413}{Pi} \Ho{cf}{tp1.south}{tfl}{0} \Ho{cf}{tp2.south}{tfl}{0}
\Dl{tal}{68,448}{AKG} \Dl{tar}{132,448}{AKG} \draw[dg,<->] (tal) -- (tar);
\Bl{tm1}{91,434}{Mal} \Bl{tm2}{114,434}{Mal} \Ho{cf}{tm1.south}{tal}{0} \Ho{cf}{tm2.south}{tal}{0}
\Dl{tbl}{68,470}{AKG} \Dl{tbr}{128,470}{AKG} \draw[draw=black!75,line width=1.1pt,<->] (tbl) -- (tbr);
\Bl{tp3}{92,456}{Pi} \Bl{tp4}{111,456}{Pi} \Ho{bkt}{tp3.south}{tbl}{0} \Hi{bkt}{tp4.south}{tbl}{0}
\Dl{tol}{70,490}{Orn} \Dl{tor}{126,490}{Orn} \draw[sg,->] (tor) -- (tol);
\Bl{th1}{91,477}{H} \Bl{th2}{111,477}{H} \Ho{sgt}{th1.south}{tol}{0} \Ho{sgt}{th2.south}{tol}{0}
\Dl{r5l}{70,512}{Orn} \Dl{r5r}{140,512}{Orn} \draw[dg,<->] (r5l) -- (r5r);
\Bl{r5a}{79,499}{Arg} \Bl{r5b}{92,499}{H} \Bl{r5c}{112,499}{H} \Bl{r5d}{122,499}{Arg}
\Ho{cf}{r5a.south}{r5l}{0} \Ho{cf}{r5b.south}{r5l}{0} \Ho{cf}{r5c.south}{r5l}{0} \Ho{cf}{r5d.south}{r5l}{0}
\Dl{r6l}{70,535}{Orn} \Dl{r6r}{139,535}{Orn} \draw[dg,->] (r6r) -- (r6l);
\Bl{r6a}{83,522}{Arg} \Bl{r6b}{94,522}{H} \Bl{r6c}{114,522}{H} \Bl{r6d}{124,522}{Arg}
\Ho{cf}{r6a.south}{r6l}{0} \Ho{cf}{r6b.south}{r6l}{0} \Ho{cf}{r6c.south}{r6l}{0} \Ho{cf}{r6d.south}{r6l}{0}
\Dl{r7l}{67,557}{Ci} \Dl{r7r}{137,557}{Ci} \draw[dg,<->] (r7l) -- (r7r);
\Bl{r7a}{79,543}{Arg} \Bl{r7b}{92,543}{H} \Bl{r7c}{111,543}{H} \Bl{r7d}{121,543}{Arg}
\Ho{cf}{r7a.south}{r7l}{0} \Ho{cf}{r7b.south}{r7l}{0} \Ho{cf}{r7c.south}{r7l}{0} \Ho{cf}{r7d.south}{r7l}{0}
\Dl{r8l}{67,578}{Ci} \Dl{r8r}{131,578}{Ci} \draw[dg,->] (r8r) -- (r8l);
\Bl{r8a}{79,564}{Arg} \Bl{r8b}{90,564}{H} \Bl{r8c}{110,564}{H} \Bl{r8d}{121,564}{Arg}
\Ho{cf}{r8a.south}{r8l}{0} \Ho{cf}{r8b.south}{r8l}{0} \Ho{cf}{r8c.south}{r8l}{0} \Ho{cf}{r8d.south}{r8l}{0}
\Dl{r9l}{70,598}{Arg} \Dl{r9r}{131,598}{Arg} \draw[sg,<->] (r9l) -- (r9r);
\Bl{r9a}{92,584}{H} \Bl{r9b}{112,584}{H} \Ho{sgt}{r9a.south}{r9l}{0} \Ho{sgt}{r9b.south}{r9l}{0}
\Dl{r10l}{79,620}{Ci} \Dl{r10r}{132,620}{Ci} \draw[sg,<->] (r10l) -- (r10r);
\Bl{r10a}{97,606}{H} \Bl{r10b}{117,606}{H} \Ho{sgt}{r10a.south}{r10l}{0} \Ho{sgt}{r10b.south}{r10l}{0}
% ---------- electron transport chain ----------
\coordinate (ey) at (0,630);
\Dl{xnadh}{161,616}{NADH} \Dl{xh5}{179,616}{5 H} \Dl{xq1}{198,616}{Q} \Dl{xnad}{223,616}{NAD} \Dl{xqh1}{240,616}{QH\sbs{2}}
\Dl{xfadh}{272,616}{FADH\sbs{2}} \Dl{xq2}{289,616}{Q} \Dl{xfad}{306,616}{FAD} \Dl{xqh2}{331,616}{QH\sbs{2}}
\Dl{xcox1}{363,616}{2 Cytc-ox} \Dl{xh2}{389,616}{2 H} \Dl{xqh3}{413,616}{QH\sbs{2}} \Dl{xcred1}{446,616}{2 Cytc-red} \Dl{xq3}{473,616}{Q}
\Dl{xcred2}{502,616}{4 Cytc-red} \Dl{xh8}{532,616}{8 H} \Dl{xo2}{547,616}{O\sbs{2}} \Dl{xcox2}{583,616}{4 Cytc-ox} \Dl{xw1}{621,616}{2 H\sbs{2}O}
\Dl{xadp}{645,616}{ADP} \Dl{xpi}{663,616}{Pi} \Dl{xatp}{685,616}{ATP} \Dl{xw2}{705,616}{2 H\sbs{2}O} \Dl{xh4}{729,616}{4 H}
\Dl{xf1}{221,652}{4 H} \Dl{xf2}{433,652}{4 H} \Dl{xf3}{566,652}{4 H} \Dl{xf4}{671,652}{4 H}
\draw[dg] (xnadh.south) -- (xnadh.south |- ey) -- (xqh1.south |- ey);
\draw[dg] (xh5.south) -- (xh5.south |- ey); \draw[dg] (xq1.south) -- (xq1.south |- ey);
\draw[dg,->] (xnad.south |- ey) -- (xnad.south); \draw[dg,->] (xqh1.south |- ey) -- (xqh1.south);
\draw[dg,->] (xf1.north |- ey) -- (xf1.north);
\draw[sg] (xfadh.south) -- (xfadh.south |- ey) -- (xqh2.south |- ey);
\draw[sg] (xq2.south) -- (xq2.south |- ey);
\draw[sg,->] (xfad.south |- ey) -- (xfad.south); \draw[sg,->] (xqh2.south |- ey) -- (xqh2.south);
\draw[dg] (xcox1.south) -- (xcox1.south |- ey) -- (xq3.south |- ey);
\draw[dg] (xh2.south) -- (xh2.south |- ey); \draw[dg] (xqh3.south) -- (xqh3.south |- ey);
\draw[dg,->] (xcred1.south |- ey) -- (xcred1.south); \draw[dg,->] (xq3.south |- ey) -- (xq3.south);
\draw[dg,->] (xf2.north |- ey) -- (xf2.north);
\draw[dg] (xcred2.south) -- (xcred2.south |- ey) -- (xw1.south |- ey);
\draw[dg] (xh8.south) -- (xh8.south |- ey); \draw[dg] (xo2.south) -- (xo2.south |- ey);
\draw[dg,->] (xcox2.south |- ey) -- (xcox2.south); \draw[dg,->] (xw1.south |- ey) -- (xw1.south);
\draw[dg,->] (xf3.north |- ey) -- (xf3.north);
\draw[dg] (xadp.south) -- (xadp.south |- ey) -- (xh4.south |- ey);
\draw[dg] (xpi.south) -- (xpi.south |- ey);
\draw[dg,->] (xatp.south |- ey) -- (xatp.south); \draw[dg,->] (xw2.south |- ey) -- (xw2.south); \draw[dg,->] (xh4.south |- ey) -- (xh4.south);
\draw[dg] (xf4.north) -- (xf4.north |- ey);
% ---------- exchange with medium ----------
\Dl{eO}{259,664}{O\sbs{2}} \Dl{eGln}{281,664}{Gln} \Dl{eGlc}{303,664}{Glc} \Dl{eFol}{326,664}{Folate}
\Dl{eArg}{348,664}{Arg} \Dl{eCar}{374,664}{carnitine} \Dl{eBio}{412,664}{Biomass} \Dl{eLac}{441,664}{Lact}
\Dl{eUre}{462,664}{Urea} \Dl{eGlu}{483,664}{Glu} \Dl{eNH}{501,664}{NH\sbs{3}} \Dl{ePut}{523,664}{Putr}
\Dl{eGA}{543,664}{GA} \Dl{eCO}{561,664}{CO\sbs{2}} \Dl{ePi}{577,664}{Pi} \Dl{eTen}{612,664}{10-formylTHF}
\Dl{eW}{650,664}{H\sbs{2}O} \Dl{eH}{668,664}{H} \Dl{ePal}{686,664}{Palm}
\coordinate (eb) at (0,708);
\draw[ex,->] (eO |- eb) -- (eO); \draw[ex,->] (eGln |- eb) -- (eGln); \draw[ex,->] (eGlc |- eb) -- (eGlc);
\draw[ex,->] (eFol |- eb) -- (eFol); \draw[draw=black,line width=1.1pt,->] (eArg |- eb) -- (eArg); \draw[ex,->] (eCar |- eb) -- (eCar);
\draw[ex,->] (eBio) -- (eBio |- eb); \draw[ex,->] (eLac) -- (eLac |- eb); \draw[ex,->] (eUre) -- (eUre |- eb);
\draw[ex,<->] (eGlu) -- (eGlu |- eb); \draw[ex,<->] (eNH) -- (eNH |- eb); \draw[ex,->] (ePut) -- (ePut |- eb);
\draw[ex,->] (eGA) -- (eGA |- eb); \draw[ex,<->] (eCO) -- (eCO |- eb); \draw[ex,<->] (ePi) -- (ePi |- eb);
\draw[ex,->] (eTen) -- (eTen |- eb); \draw[ex,<->] (eW) -- (eW |- eb); \draw[ex,<->] (eH) -- (eH |- eb);
\draw[ex,<->] (ePal) -- (ePal |- eb);
\end{tikzpicture}
\end{document}
